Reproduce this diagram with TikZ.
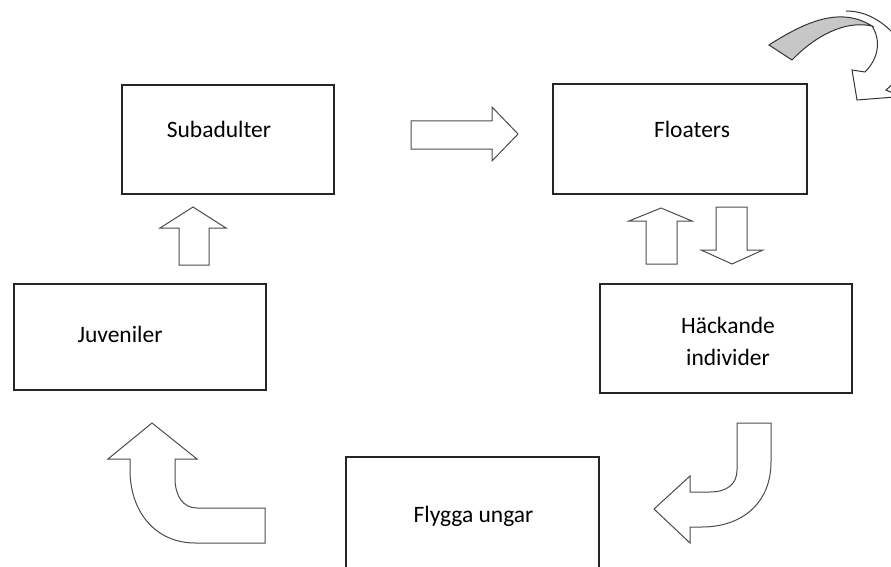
\documentclass[tikz,border=0pt]{standalone}
\usepackage{fontspec}
\setmainfont{Carlito}
\begin{document}
\begin{tikzpicture}[x=1pt,y=-1pt,
  stage/.style={draw=black!85,line width=1.3pt,rectangle,fill=white,inner sep=0pt},
  label/.style={font=\fontsize{23.5}{32}\selectfont,text=black,anchor=base,inner sep=0pt},
  blockarrow/.style={draw=black!70,line width=1pt,fill=white,line join=miter},
  bandarrow/.style={draw=black!80,line width=1pt,fill=black!22}]
\useasboundingbox (0,0) rectangle (891,567);
\clip (0,0) rectangle (891,567);

% stage boxes
\node[stage,minimum width=212pt,minimum height=109pt] (sub) at (228,139.5) {};
\node[label] (subt) at (219,138) {Subadulter};
\node[stage,minimum width=254pt,minimum height=110pt] (flo) at (680,139) {};
\node[label] (flot) at (692,138) {Floaters};
\node[stage,minimum width=252pt,minimum height=106pt] (juv) at (140,337) {};
\node[label] (juvt) at (120,342) {Juveniler};
\node[stage,minimum width=252pt,minimum height=109pt] (hac) at (726,338.5) {};
\node[label] (hact) at (728,333) {H\"ackande};
\node[label] (hact2) at (728,365) {individer};
\node[stage,minimum width=253pt,minimum height=130pt] (fly) at (472.5,522) {};
\node[label] (flyt) at (473.5,522) {Flygga ungar};

% Subadulter -> Floaters
\draw[blockarrow] (411,121) -- (492,121) -- (492,107) -- (518,134) -- (492,161)
  -- (492,149) -- (411,149) -- cycle;

% Juveniler -> Subadulter
\draw[blockarrow] (179,265) -- (179,228) -- (160,228) -- (193,207) -- (226,228)
  -- (209,228) -- (209,265) -- cycle;

% Haeckande -> Floaters
\draw[blockarrow] (646,264) -- (646,221) -- (629,221) -- (661,208) -- (692,221)
  -- (677,221) -- (677,264) -- cycle;

% Floaters -> Haeckande
\draw[blockarrow] (716,207) -- (747,207) -- (747,250) -- (763,250) -- (732,264)
  -- (701,250) -- (716,250) -- cycle;

% Haeckande -> Flygga ungar (bent)
\draw[blockarrow] (737,423) -- (771,423) -- (771,462)
  .. controls (771,503) and (742,527) .. (702,527) -- (690,527) -- (690,543)
  -- (654,509) -- (690,476) -- (690,492) -- (710,492)
  .. controls (727,492) and (737,484) .. (737,470) -- cycle;

% Flygga ungar -> Juveniler (bent)
\draw[blockarrow] (265,543) -- (195,543)
  .. controls (158,543) and (131,515) .. (130,472) -- (130,459) -- (108,459)
  -- (152,423) -- (197,459) -- (175,459) -- (175,478)
  .. controls (175,496) and (183,508) .. (197,508) -- (265,508) -- cycle;

% Floaters: curved return arrow
\path[bandarrow] (769,45) .. controls (805,22) and (840,6) .. (872,26)
  .. controls (845,20) and (815,36) .. (792,60) -- cycle;
\draw[black!80,line width=1pt] (846,11) .. controls (864,11) and (880,19) .. (895,35);
\draw[black!80,line width=1pt,line join=miter] (872,26) .. controls (881,40) and (879,58) .. (865,72)
  -- (852,70) -- (857,100) -- (895,97);
\draw[black!80,line width=1pt,line join=miter] (895,82) -- (886,90) -- (895,94);
\end{tikzpicture}
\end{document}
